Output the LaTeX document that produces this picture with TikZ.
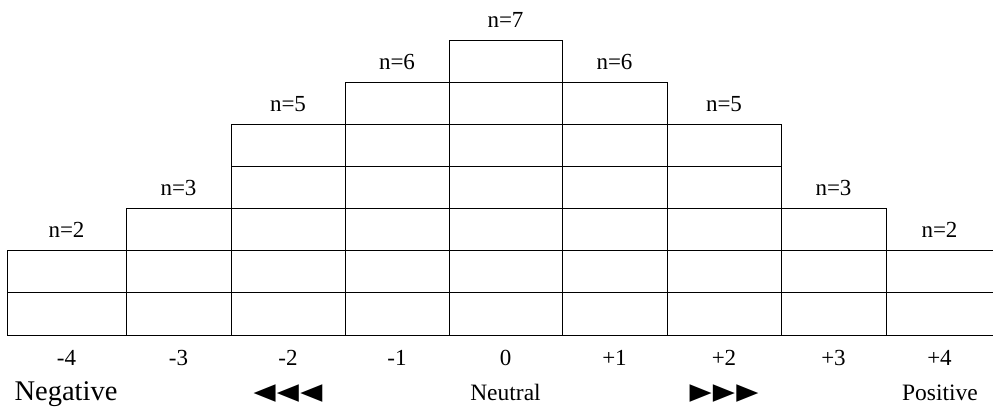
\documentclass[tikz,border=0pt]{standalone}
\usepackage{fontspec}
\setmainfont{Liberation Serif}
\newfontfamily\symfont{DejaVu Sans}
\begin{document}
\begin{tikzpicture}[x=1pt,y=-1pt,line width=0.9pt,
  lbl/.style={font=\fontsize{23}{25}\selectfont,inner sep=0pt,anchor=base},
  word/.style={font=\fontsize{23.5}{25}\selectfont,inner sep=0pt,anchor=base},
  bigword/.style={font=\fontsize{28.5}{30}\selectfont,inner sep=0pt,anchor=base},
  sym/.style={font=\symfont\fontsize{23}{25}\selectfont,inner sep=0pt,anchor=base,xscale=1.25}]
\useasboundingbox (0,0) rectangle (993,412);
\def\rh{42.14}
\foreach \i/\l/\r/\h/\v in {1/7/126/2/-4, 2/126/231/3/-3, 3/231/345/5/-2, 4/345/449/6/-1, 5/449/562/7/0, 6/562/667/6/+1, 7/667/781/5/+2, 8/781/886/3/+3}{
  \foreach \k in {1,...,\h}{
    \draw (\l,{335-\rh*(\k-1)}) rectangle (\r,{335-\rh*\k});
  }
  \node[lbl] (n\i) at ({(\l+\r)/2},{335-\rh*\h-12.8}) {n=\h};
  \node[lbl] (v\i) at ({(\l+\r)/2},365) {\v};
}
% open right column
\coordinate (r0) at (993,335);
\coordinate (r1) at (993,{335-\rh});
\coordinate (r2) at (993,{335-2*\rh});
\draw (886,335) -- (r0);
\draw (886,{335-\rh}) -- (r1);
\draw (886,{335-2*\rh}) -- (r2);
\node[lbl] (n9) at (939.5,{335-2*\rh-12.8}) {n=2};
\node[lbl] (v9) at (939.5,365) {+4};
% bottom words
\node[bigword] (neg) at (66,400) {Negative};
\node[sym] (la) at (288,399) {◀\kern1pt◀\kern1pt◀};
\node[word] (neu) at (505.5,400) {Neutral};
\node[sym] (ra) at (724,399) {▶\kern1pt▶\kern1pt▶};
\node[word] (pos) at (940,400) {Positive};
\end{tikzpicture}
\end{document}
